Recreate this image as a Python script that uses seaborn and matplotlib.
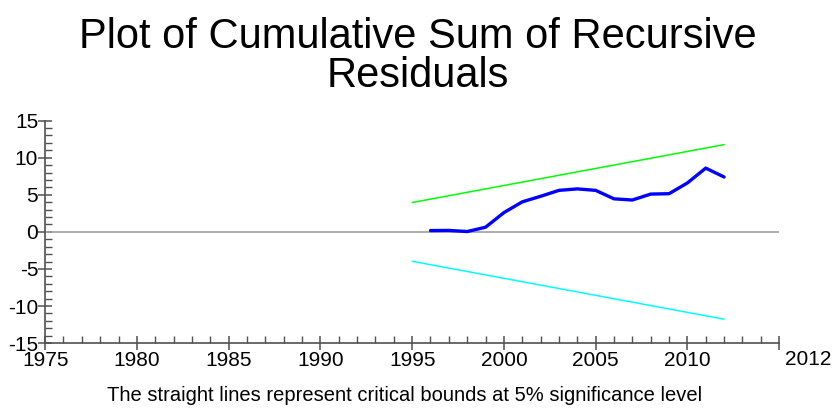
import numpy as np
import pandas as pd
import matplotlib
matplotlib.use('Agg')
import matplotlib.pyplot as plt
import matplotlib.ticker as mticker
import seaborn as sns

sns.set_style('white')
plt.rcParams['font.family'] = ['Liberation Sans', 'DejaVu Sans']
plt.rcParams['axes.unicode_minus'] = False
plt.rcParams['text.color'] = 'black'
plt.rcParams['xtick.labelcolor'] = 'black'
plt.rcParams['ytick.labelcolor'] = 'black'

# cusum of recursive residuals
years = [1996, 1997, 1998, 1999, 2000, 2001, 2002, 2003, 2004,
         2005, 2006, 2007, 2008, 2009, 2010, 2011, 2012]
cusum = [0.18, 0.2, 0.05, 0.63, 2.6, 4.05, 4.8, 5.6, 5.8,
         5.6, 4.46, 4.3, 5.1, 5.15, 6.6, 8.6, 7.4]

# 5% critical bounds (straight lines)
bound_years = [1995, 2012]
upper = [3.96, 11.77]
lower = [-3.96, -11.77]

df = pd.DataFrame({'year': years, 'cusum': cusum})
bounds = pd.DataFrame({'year': bound_years, 'upper': upper, 'lower': lower})

fig = plt.figure(figsize=(8.36, 4.09), dpi=100)
ax = fig.add_axes([0.054, 0.161, 0.878, 0.544])

ax.axhline(0, color='#a0a0a0', lw=1.2, zorder=1)
sns.lineplot(x='year', y='upper', data=bounds, color='#00ff00', lw=1.1, ax=ax)
sns.lineplot(x='year', y='lower', data=bounds, color='#00ffff', lw=1.1, ax=ax)
sns.lineplot(x='year', y='cusum', data=df, color='#0000ff', lw=2.4, ax=ax)

ax.set_xlim(1975, 2015)
ax.set_ylim(-15, 15)
ax.set_xlabel('')
ax.set_ylabel('')

ax.set_xticks([1975, 1980, 1985, 1990, 1995, 2000, 2005, 2010, 2015])
ax.set_xticklabels(['1975', '1980', '1985', '1990', '1995', '2000', '2005', '2010', ''])
ax.set_yticks([-15, -10, -5, 0, 5, 10, 15])
ax.xaxis.set_minor_locator(mticker.MultipleLocator(1))
ax.yaxis.set_minor_locator(mticker.MultipleLocator(1))

for s in ['top', 'right']:
    ax.spines[s].set_visible(False)
for s in ['left', 'bottom']:
    ax.spines[s].set_color('#505050')
    ax.spines[s].set_linewidth(1.2)

ax.tick_params(which='major', direction='inout', length=10, width=1.1,
               color='#505050', labelsize=15, left=True, bottom=True)
ax.tick_params(axis='x', which='major', pad=1)
ax.tick_params(axis='y', which='major', pad=0)
ax.tick_params(which='minor', direction='in', length=5, width=1.0,
               color='#505050', left=True, bottom=True)

ax.text(2016.6, -15.9, '2012', fontsize=15, ha='center', va='top',
        transform=ax.transData, clip_on=False)

fig.text(0.5, 0.958, 'Plot of Cumulative Sum of Recursive\nResiduals',
         ha='center', va='top', fontsize=30, linespacing=0.95)
fig.text(0.484, 0.034, 'The straight lines represent critical bounds at 5% significance level',
         ha='center', va='center', fontsize=14.5)

fig.savefig('out.png', dpi=100)
